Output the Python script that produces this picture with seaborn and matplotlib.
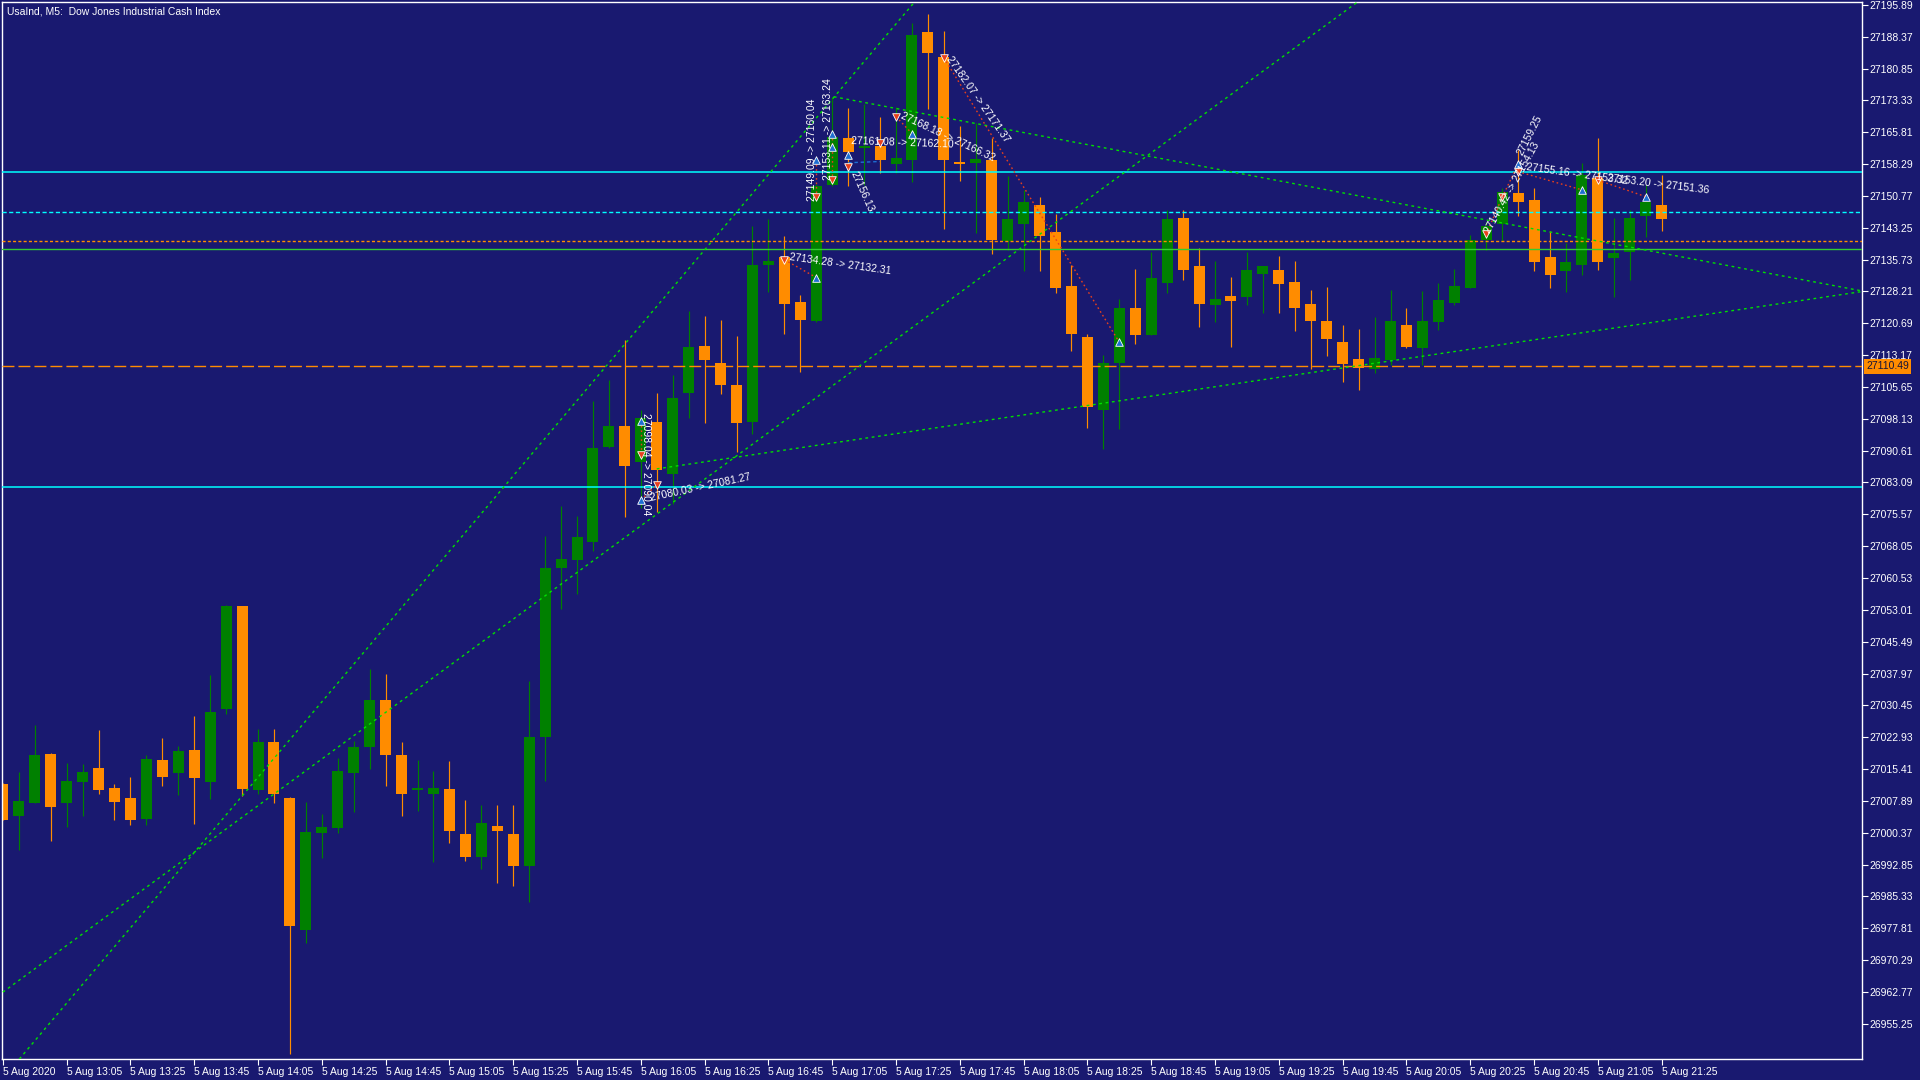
import matplotlib
matplotlib.use("Agg")
import matplotlib.pyplot as plt
import matplotlib.transforms as mtransforms
import numpy as np
import pandas as pd
import seaborn as sns

# ---------------- data ----------------
chart_title = "UsaInd, M5:  Dow Jones Industrial Cash Index"

opens = [27011.9, 27004.3, 27007.5, 27019.0, 27007.5, 27012.3, 27015.7, 27010.9, 27008.6, 27003.6,
         27017.5, 27014.5, 27019.9, 27012.3, 27029.6, 27053.9, 27010.5, 27021.8, 27008.6, 26977.4,
         27000.3, 27001.5, 27014.5, 27020.6, 27031.7, 27018.7, 27010.4, 27009.5, 27010.6, 27000.1,
         26994.7, 27002.0, 27000.1, 26992.5, 27022.9, 27063.0, 27064.8, 27069.0, 27091.4, 27096.4,
         27088.0, 27097.3, 27085.0, 27104.2, 27115.4, 27111.2, 27106.2, 27097.4, 27134.4, 27136.4,
         27125.6, 27121.2, 27153.3, 27164.4, 27162.2, 27162.5, 27158.4, 27159.2, 27189.5, 27183.6,
         27158.5, 27158.6, 27159.2, 27140.1, 27144.2, 27148.6, 27142.2, 27129.5, 27117.4, 27100.3,
         27111.4, 27124.3, 27118.0, 27130.3, 27145.5, 27134.2, 27125.1, 27127.2, 27127.0, 27132.4,
         27133.3, 27130.4, 27125.2, 27121.2, 27116.3, 27112.2, 27110.0, 27112.1, 27120.3, 27114.9,
         27121.1, 27125.5, 27129.1, 27140.4, 27144.1, 27151.4, 27149.8, 27136.3, 27133.0, 27134.4,
         27155.0, 27136.1, 27137.5, 27146.1, 27148.6]
highs = [27012.0, 27014.7, 27025.8, 27019.1, 27016.8, 27016.6, 27024.6, 27011.9, 27013.5, 27018.7,
         27022.7, 27020.8, 27027.9, 27037.6, 27054.2, 27054.0, 27024.9, 27024.9, 27008.7, 27007.6,
         27004.8, 27018.0, 27022.0, 27039.0, 27037.9, 27021.8, 27017.5, 27014.9, 27017.2, 27008.1,
         27007.0, 27007.0, 27007.0, 27036.3, 27070.4, 27077.5, 27075.1, 27102.4, 27107.2, 27116.7,
         27100.3, 27104.3, 27108.4, 27123.7, 27122.3, 27121.4, 27117.6, 27143.6, 27145.2, 27141.4,
         27127.3, 27153.5, 27174.2, 27171.5, 27172.5, 27169.3, 27171.7, 27191.6, 27193.7, 27189.8,
         27167.4, 27167.9, 27164.5, 27155.5, 27152.2, 27150.5, 27146.5, 27134.4, 27118.1, 27113.2,
         27126.4, 27133.5, 27137.5, 27147.4, 27147.4, 27138.5, 27135.4, 27131.6, 27137.5, 27134.3,
         27136.6, 27135.4, 27128.5, 27129.3, 27120.3, 27119.3, 27122.2, 27128.5, 27124.2, 27128.3,
         27130.2, 27133.5, 27141.5, 27144.5, 27152.6, 27161.6, 27152.6, 27142.5, 27139.7, 27158.5,
         27164.4, 27145.6, 27147.4, 27153.3, 27155.7]
lows = [27003.3, 26996.3, 27007.4, 26998.4, 27001.6, 27004.4, 27009.5, 27003.4, 27002.2, 27002.2,
        27011.4, 27009.3, 27002.4, 27008.3, 27028.4, 27009.0, 27009.5, 27007.4, 26948.1, 26974.3,
        26994.4, 27000.3, 27005.3, 27015.4, 27011.4, 27004.3, 27005.5, 26993.4, 26998.0, 26993.6,
        26991.9, 26988.6, 26987.8, 26983.9, 27012.6, 27053.2, 27056.8, 27067.0, 27091.3, 27075.0,
        27077.0, 27076.2, 27078.0, 27098.4, 27097.2, 27104.1, 27090.3, 27094.5, 27128.0, 27118.2,
        27109.2, 27121.1, 27153.2, 27153.2, 27153.3, 27156.2, 27156.1, 27154.1, 27171.4, 27143.0,
        27154.4, 27142.1, 27137.1, 27138.1, 27133.1, 27133.1, 27127.9, 27114.2, 27096.0, 27091.1,
        27095.8, 27115.9, 27117.9, 27127.9, 27131.0, 27119.9, 27121.1, 27115.2, 27125.1, 27123.2,
        27123.2, 27118.9, 27110.0, 27113.0, 27106.9, 27105.0, 27109.0, 27110.9, 27114.9, 27110.9,
        27119.2, 27125.1, 27129.0, 27138.0, 27140.2, 27146.1, 27133.0, 27129.0, 27128.0, 27132.1,
        27133.3, 27126.9, 27130.9, 27141.1, 27142.5]
closes = [27003.4, 27007.9, 27018.7, 27006.4, 27012.6, 27014.7, 27010.5, 27007.6, 27003.4, 27017.8,
          27013.5, 27019.7, 27013.3, 27028.9, 27053.9, 27010.7, 27021.8, 27009.5, 26978.3, 27000.5,
          27001.7, 27014.9, 27020.6, 27031.7, 27018.7, 27009.5, 27010.9, 27010.9, 27000.8, 26994.7,
          27002.7, 27000.8, 26992.5, 27023.0, 27063.0, 27065.1, 27070.2, 27091.2, 27096.4, 27087.0,
          27098.2, 27086.1, 27103.1, 27115.2, 27112.1, 27106.1, 27097.2, 27134.5, 27135.5, 27125.2,
          27121.5, 27153.2, 27164.8, 27161.2, 27162.5, 27159.2, 27159.7, 27188.8, 27184.6, 27159.2,
          27158.4, 27159.5, 27140.4, 27145.3, 27149.3, 27141.4, 27129.1, 27118.2, 27101.0, 27111.3,
          27124.3, 27118.0, 27131.4, 27145.3, 27133.3, 27125.3, 27126.4, 27126.0, 27133.3, 27134.2,
          27130.0, 27124.4, 27121.3, 27117.0, 27111.1, 27110.2, 27112.5, 27121.2, 27115.1, 27121.2,
          27126.2, 27129.5, 27140.4, 27143.7, 27151.7, 27149.3, 27135.1, 27132.1, 27135.1, 27155.7,
          27135.1, 27137.3, 27145.6, 27149.3, 27145.3]

x_tick_pos = [0, 4, 8, 12, 16, 20, 24, 28, 32, 36, 40, 44, 48, 52, 56, 60, 64, 68, 72, 76,
              80, 84, 88, 92, 96, 100, 104]
x_tick_labels = ["5 Aug 2020", "5 Aug 13:05", "5 Aug 13:25", "5 Aug 13:45", "5 Aug 14:05",
                 "5 Aug 14:25", "5 Aug 14:45", "5 Aug 15:05", "5 Aug 15:25", "5 Aug 15:45",
                 "5 Aug 16:05", "5 Aug 16:25", "5 Aug 16:45", "5 Aug 17:05", "5 Aug 17:25",
                 "5 Aug 17:45", "5 Aug 18:05", "5 Aug 18:25", "5 Aug 18:45", "5 Aug 19:05",
                 "5 Aug 19:25", "5 Aug 19:45", "5 Aug 20:05", "5 Aug 20:25", "5 Aug 20:45",
                 "5 Aug 21:05", "5 Aug 21:25"]
y_tick_values = [27195.89, 27188.37, 27180.85, 27173.33, 27165.81, 27158.29, 27150.77, 27143.25,
                 27135.73, 27128.21, 27120.69, 27113.17, 27105.65, 27098.13, 27090.61, 27083.09,
                 27075.57, 27068.05, 27060.53, 27053.01, 27045.49, 27037.97, 27030.45, 27022.93,
                 27015.41, 27007.89, 27000.37, 26992.85, 26985.33, 26977.81, 26970.29, 26962.77,
                 26955.25]

last_price = 27110.49
level_prices = [27156.34, 27147.04, 27140.19, 27138.16, 27110.49, 27082.02]
level_kinds = ["cyan_solid", "cyan_dash", "orange_dash", "green_solid", "orange_long", "cyan_solid"]

trend_i0 = [0.0, 0.0, 41.0, 52.1]
trend_p0 = [26942.3, 26962.7, 27086.3, 27174.2]
trend_i1 = [58.0, 86.0, 116.6, 116.6]
trend_p1 = [27200.3, 27199.5, 27128.2, 27128.3]

buy_i = [40, 40, 51, 51, 52, 52, 53, 57, 70, 95, 99, 103]
buy_p = [27097.5, 27079.0, 27131.5, 27159.2, 27162.4, 27165.5, 27160.4, 27165.5, 27116.2, 27158.3,
         27152.2, 27150.6]
sell_i = [40, 41, 49, 51, 52, 53, 55, 56, 59, 93, 94, 95, 100]
sell_p = [27089.5, 27082.5, 27135.7, 27150.4, 27154.5, 27157.5, 27163.2, 27169.5, 27183.4, 27141.7,
          27150.4, 27156.5, 27154.5]

link_i0 = [40, 40, 49, 51, 52, 56, 59, 93, 94, 95, 100]
link_p0 = [27097.5, 27079.0, 27135.7, 27150.4, 27154.5, 27169.5, 27183.4, 27141.7, 27150.4, 27156.5, 27154.5]
link_i1 = [40, 41, 51, 51, 52, 57, 70, 94, 95, 99, 103]
link_p1 = [27089.5, 27082.5, 27131.5, 27159.2, 27165.5, 27165.5, 27116.2, 27150.4, 27158.3, 27152.2, 27150.6]

note_texts = ["27098.04 -> 27090.04", "27080.03 -> 27081.27", "27134.28 -> 27132.31",
              "27149.09 -> 27160.04", "27153.11 -> 27163.24", "27161.08 -> 27162.10",
              "27168.18 -> 27166.32", "27156.13", "27182.07 -> 27171.37",
              "27140.42 -> 27154.13", "27159.25", "27155.16 -> 27153.32", "27153.20 -> 27151.36"]
note_i = [40.35, 40.6, 49.3, 50.75, 51.75, 53.2, 56.3, 53.3, 59.3, 93.1, 95.1, 95.5, 100.6]
note_p = [27099.5, 27079.5, 27136.3, 27149.5, 27154.5, 27163.8, 27169.8, 27156.5, 27183.6,
          27142.0, 27160.5, 27157.5, 27155.0]
note_rot = [-90, 12, -8, 90, 90, -2, -25, -66, -55, 61, 63, -8, -7]

# ---------------- style ----------------
BG = "#191970"
BULL = "#008000"
BEAR = "#FF8C00"
sns.set_theme(style="dark", rc={"axes.facecolor": BG, "figure.facecolor": BG,
                                "axes.edgecolor": "white", "axes.grid": False})
plt.rcParams["font.family"] = ["Liberation Sans", "DejaVu Sans"]

W, H = 1920, 1080
fig = plt.figure(figsize=(W / 100, H / 100), dpi=100, facecolor=BG)
ax = fig.add_axes([2 / W, 21 / H, 1860 / W, 1057 / H])
ax.set_facecolor(BG)

df = pd.DataFrame({"o": opens, "h": highs, "l": lows, "c": closes})
df["i"] = np.arange(len(df))
df["bull"] = df["c"] >= df["o"]
colors = np.where(df["bull"], BULL, BEAR)

# wicks and bodies
ax.vlines(df["i"], df["l"], df["h"], colors=colors, linewidth=0.85, zorder=2)
body_low = np.minimum(df["o"], df["c"])
body_h = np.maximum(np.abs(df["c"] - df["o"]), 0.3)
ax.bar(df["i"], body_h, bottom=body_low, width=0.69, color=colors, linewidth=0, zorder=2.5)

# horizontal levels
level_style = {
    "cyan_solid": dict(color="#00FFFF", linewidth=1.1, linestyle="-"),
    "cyan_dash": dict(color="#00FFFF", linewidth=1.0, linestyle=(0, (3.0, 1.8))),
    "orange_dash": dict(color=BEAR, linewidth=1.0, linestyle=(0, (2.2, 1.6))),
    "green_solid": dict(color="#32CD32", linewidth=1.0, linestyle="-"),
    "orange_long": dict(color=BEAR, linewidth=1.0, linestyle=(0, (8.6, 2.9))),
}
for p, k in zip(level_prices, level_kinds):
    ax.axhline(p, zorder=3, **level_style[k])

# trend lines (dotted green)
for a0, b0, a1, b1 in zip(trend_i0, trend_p0, trend_i1, trend_p1):
    seg = pd.DataFrame({"i": [a0, a1], "p": [b0, b1]})
    sns.lineplot(data=seg, x="i", y="p", ax=ax, color="#00E000", linewidth=1.0,
                 linestyle=(0, (2.0, 2.6)), estimator=None, sort=False, zorder=3.5, legend=False)

# trade links (red dotted)
for a0, b0, a1, b1 in zip(link_i0, link_p0, link_i1, link_p1):
    seg = pd.DataFrame({"i": [a0, a1], "p": [b0, b1]})
    sns.lineplot(data=seg, x="i", y="p", ax=ax, color="#E8401C", linewidth=1.0,
                 linestyle=(0, (1.2, 2.0)), estimator=None, sort=False, zorder=4, legend=False)
seg = pd.DataFrame({"i": [53, 55], "p": [27158.6, 27158.9]})
sns.lineplot(data=seg, x="i", y="p", ax=ax, color="#1E6ED2", linewidth=1.0,
             linestyle=(0, (2.5, 2.0)), estimator=None, sort=False, zorder=4, legend=False)

# trade arrows
sns.scatterplot(x=buy_i, y=buy_p, ax=ax, marker="^", s=30, color="#1E6ED2",
                edgecolor="white", linewidth=0.6, zorder=5, legend=False)
sns.scatterplot(x=sell_i, y=sell_p, ax=ax, marker="v", s=30, color="#E8401C",
                edgecolor="white", linewidth=0.6, zorder=5, legend=False)

# trade notes
for t, a, b, r in zip(note_texts, note_i, note_p, note_rot):
    ax.text(a, b, t, rotation=r, rotation_mode="anchor", ha="left", va="center",
            color="white", fontsize=7.5, zorder=6)

# axes limits / frame
ax.set_xlim(-0.05, 116.56)
ax.set_ylim(26946.92, 27196.57)
for s in ax.spines.values():
    s.set_color("white")
    s.set_linewidth(1.0)

ax.set_xticks(x_tick_pos)
ax.set_xticklabels(x_tick_labels)
for lab in ax.get_xticklabels():
    lab.set_horizontalalignment("left")
ax.tick_params(axis="x", bottom=True, length=4, width=0.8, color="white",
               labelcolor="white", labelsize=7.5, pad=2)
ax.yaxis.tick_right()
ax.set_yticks(y_tick_values)
ax.set_yticklabels([f"{v:.2f}" for v in y_tick_values])
ax.tick_params(axis="y", right=True, length=4, width=0.8, color="white",
               labelcolor="white", labelsize=7.5, pad=1.5)
ax.set_xlabel("")
ax.set_ylabel("")

# last price tag
trans = mtransforms.blended_transform_factory(ax.transAxes, ax.transData)
ax.text(1.0, last_price, "27110.49", transform=trans + mtransforms.ScaledTranslation(4 / 100, 0, fig.dpi_scale_trans),
        ha="left", va="center", fontsize=7.5, color="#14143c", zorder=7, clip_on=False,
        bbox=dict(boxstyle="square,pad=0.2", facecolor=BEAR, edgecolor="none"))

# title
ax.text(0.0027, 0.9955, chart_title, transform=ax.transAxes, ha="left", va="top",
        color="white", fontsize=7.5)

fig.savefig("out.png", dpi=100, facecolor=BG)
